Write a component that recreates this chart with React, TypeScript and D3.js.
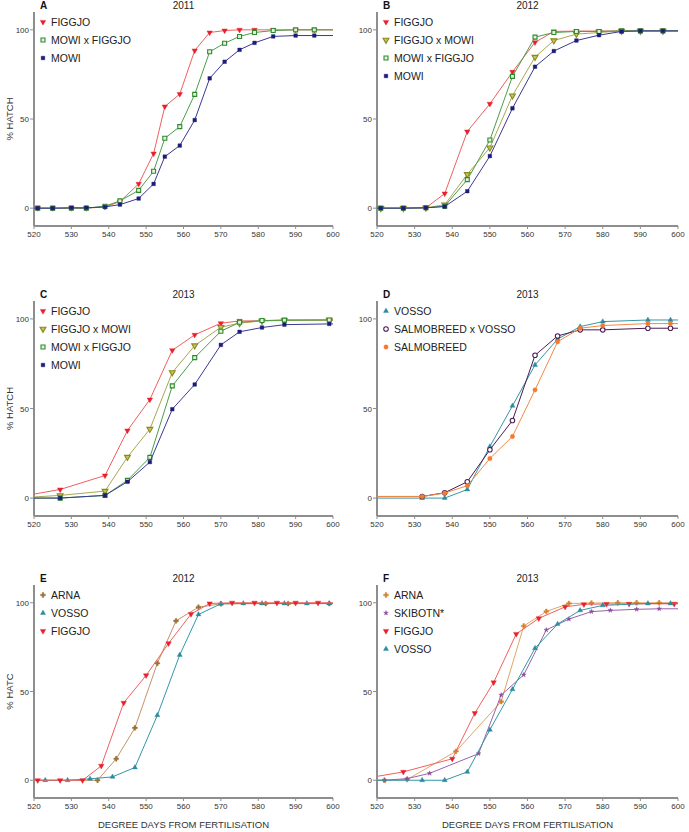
import React from 'react';
import * as d3 from 'd3';

const xTicks = [520, 530, 540, 550, 560, 570, 580, 590, 600];
const yTicks = [0, 50, 100];

// A - 2011
const xA = [521, 525, 530, 534, 539, 543, 548, 552, 555, 559, 563, 567, 571, 575, 579, 584, 590, 595];
const figgjoA = [0, 0, 0, 0, 0.7, 3.7, 13.6, 30.6, 57, 64, 88.4, 98.5, 99.6, 100, 100, 100, 100, 100];
const mowiFiggjoA = [0, 0, 0, 0, 1.1, 4.1, 10, 20.7, 39.2, 45.7, 63.8, 87.7, 92.5, 96.3, 98.5, 99.6, 100, 100];
const mowiA = [0, 0, 0.2, 0.2, 0.7, 2, 5.4, 13.6, 28.9, 35.1, 49.4, 72.8, 82.1, 88.8, 92.7, 96.3, 96.8, 96.8];

// B - 2012
const xB = [521, 527, 533, 538, 544, 550, 556, 562, 567, 573, 579, 585, 590, 596];
const figgjoB = [0, 0, 0.2, 8.2, 43, 58.5, 76.4, 93, 99.1, 99.3, 99.3, 99.4, 99.4, 99.4];
const figgjoMowiB = [0, 0, 0.2, 1.9, 19, 33.9, 63.1, 84.7, 94, 97.6, 98.5, 99.4, 99.4, 99.4];
const mowiFiggjoB = [0, 0, 0.2, 1.1, 16, 38.2, 73.9, 95.9, 98.5, 99.1, 99.1, 99.4, 99.4, 99.4];
const mowiB = [0, 0, 0.2, 0.9, 9.5, 29.2, 56, 79.3, 88.1, 94, 97, 99.1, 99.4, 99.4];

// C - 2013
const xC = [515, 527, 539, 545, 551, 557, 563, 570, 575, 581, 587, 599];
const figgjoC = [0.4, 4.8, 12.6, 37.7, 55, 82.5, 91.1, 97.6, 98.9, 98.9, 99.4, 99.4];
const figgjoMowiC = [0, 1.5, 3.9, 22.9, 38.5, 70.1, 85.1, 95.4, 97.6, 98.9, 99.1, 99.4];
const mowiFiggjoC = [0, 0, 1.5, 9.9, 22.7, 62.6, 78.4, 93.1, 98.1, 99.1, 99.3, 99.4];
const mowiC = [0, 0, 1.5, 9.1, 20.1, 49.6, 63.4, 85.5, 92.8, 95.2, 96.8, 97.2];

// D - 2013
const xD = [532, 538, 544, 550, 556, 562, 568, 574, 580, 592, 598];
const vossoD = [0, 0, 4.8, 28.8, 51.5, 74.3, 88.7, 95.7, 98.5, 99.4, 99.4];
const salmoVossoD = [0.9, 3, 9.1, 27, 43.3, 79.7, 90.5, 93.9, 93.9, 94.8, 94.8];
const salmoD = [0.9, 2.8, 6.9, 22.1, 34.4, 60.4, 87.2, 94.8, 96.3, 97.4, 97.4];

// E - 2012
const xArnaE = [537, 542, 547, 553, 558, 564, 570, 582, 588, 599];
const arnaE = [0, 12.1, 29.5, 65.9, 89.8, 97.5, 99.4, 99.5, 99.5, 99.5];
const xVossoE = [523, 529, 535, 541, 547, 553, 559, 564, 570, 576, 581, 587, 593, 599];
const vossoE = [0, 0, 0.8, 1.9, 7.2, 36.6, 70.6, 93.4, 99.4, 99.6, 99.6, 99.6, 99.6, 99.6];
const xFiggjoE = [521, 527, 533, 538, 544, 550, 556, 562, 567, 573, 579, 585, 590, 596];
const figgjoE = [0, 0, 0, 8.1, 43.6, 59.1, 77.1, 93.6, 99.6, 100, 100, 100, 100, 100];

// F - 2013
const xArnaF = [522, 528, 541, 553, 559, 565, 571, 577, 584, 589, 595];
const arnaF = [0, 0.4, 16.3, 44.3, 86.9, 95.1, 99.6, 99.8, 100, 100, 100];
const xSkibotnF = [522, 528, 534, 547, 553, 559, 565, 571, 577, 582, 589, 595];
const skibotnF = [0, 0.9, 3.9, 15, 48, 59.4, 84.7, 90.8, 95, 95.7, 96.3, 96.6];
const xFiggjoF = [515, 527, 540, 546, 551, 557, 563, 570, 575, 581, 587, 599];
const figgjoF = [0.4, 4.7, 12.1, 37.8, 55.1, 82.4, 91.2, 97.7, 99.1, 99.3, 99.4, 99.4];
const xVossoF = [532, 538, 544, 550, 556, 562, 568, 574, 580, 592, 598];
const vossoF = [0, 0, 4.7, 28.4, 51.2, 74.4, 88, 95.7, 98.5, 99.6, 99.6];

const FONT = '"Liberation Sans", Arial, sans-serif';

const styles = {
  figgjo: { color: '#e8202a', line: '#ef6060', shape: 'down', fill: '#e8202a', size: 13 },
  mowiFiggjo: { color: '#2d8a2d', line: '#4a9e4a', shape: 'square', fill: '#e4f2dc', size: 16 },
  mowi: { color: '#1c1c7a', line: '#3a3a92', shape: 'square', fill: '#1c1c7a', size: 13 },
  figgjoMowi: { color: '#8a8a1c', line: '#a8a850', shape: 'down', fill: '#c2c260', size: 15 },
  vosso: { color: '#2a8c9c', line: '#3597a6', shape: 'up', fill: '#2a8c9c', size: 11 },
  salmoVosso: { color: '#4a1a55', line: '#4a1a55', shape: 'circle', fill: '#ffffff', size: 16 },
  salmo: { color: '#f47a30', line: '#f28a48', shape: 'circle', fill: '#f47a30', size: 15 },
  arnaE: { color: '#9a7232', line: '#c49468', shape: 'cross', fill: '#9a7232', size: 13 },
  arnaF: { color: '#d2822c', line: '#e2a468', shape: 'cross', fill: '#d2822c', size: 13 },
  skibotn: { color: '#8a4a9a', line: '#9a62ac', shape: 'star', fill: '#8a4a9a', size: 7 },
};

const mk = (name: string, xs: number[], ys: number[], st: any) => ({ name, xs, ys, ...st });

const LEFT: [number, number] = [34, 333];
const RIGHT: [number, number] = [377, 678];
const ROW1: [number, number] = [226, 12];
const ROW2: [number, number] = [516, 301];
const ROW3: [number, number] = [798, 585];

const panels = [
  {
    id: 'A', year: '2011', xr: LEFT, yr: ROW1, ylabel: '% HATCH', xlabel: false,
    series: [
      mk('FIGGJO', xA, figgjoA, styles.figgjo),
      mk('MOWI x FIGGJO', xA, mowiFiggjoA, styles.mowiFiggjo),
      mk('MOWI', xA, mowiA, styles.mowi),
    ],
  },
  {
    id: 'B', year: '2012', xr: RIGHT, yr: ROW1, ylabel: '', xlabel: false,
    series: [
      mk('FIGGJO', xB, figgjoB, styles.figgjo),
      mk('FIGGJO x MOWI', xB, figgjoMowiB, styles.figgjoMowi),
      mk('MOWI x FIGGJO', xB, mowiFiggjoB, styles.mowiFiggjo),
      mk('MOWI', xB, mowiB, styles.mowi),
    ],
  },
  {
    id: 'C', year: '2013', xr: LEFT, yr: ROW2, ylabel: '% HATCH', xlabel: false,
    series: [
      mk('FIGGJO', xC, figgjoC, styles.figgjo),
      mk('FIGGJO x MOWI', xC, figgjoMowiC, styles.figgjoMowi),
      mk('MOWI x FIGGJO', xC, mowiFiggjoC, styles.mowiFiggjo),
      mk('MOWI', xC, mowiC, styles.mowi),
    ],
  },
  {
    id: 'D', year: '2013', xr: RIGHT, yr: ROW2, ylabel: '', xlabel: false,
    series: [
      mk('VOSSO', xD, vossoD, styles.vosso),
      mk('SALMOBREED x VOSSO', xD, salmoVossoD, styles.salmoVosso),
      mk('SALMOBREED', xD, salmoD, styles.salmo),
    ],
  },
  {
    id: 'E', year: '2012', xr: LEFT, yr: ROW3, ylabel: '% HATC', xlabel: true,
    series: [
      mk('ARNA', xArnaE, arnaE, styles.arnaE),
      mk('VOSSO', xVossoE, vossoE, styles.vosso),
      mk('FIGGJO', xFiggjoE, figgjoE, styles.figgjo),
    ],
  },
  {
    id: 'F', year: '2013', xr: RIGHT, yr: ROW3, ylabel: '', xlabel: true,
    series: [
      mk('ARNA', xArnaF, arnaF, styles.arnaF),
      mk('SKIBOTN*', xSkibotnF, skibotnF, styles.skibotn),
      mk('FIGGJO', xFiggjoF, figgjoF, styles.figgjo),
      mk('VOSSO', xVossoF, vossoF, styles.vosso),
    ],
  },
];

const symbolPath = (shape: string, size: number) => {
  const type =
    shape === 'square' ? d3.symbolSquare :
    shape === 'circle' ? d3.symbolCircle :
    shape === 'cross' ? d3.symbolCross :
    shape === 'star' ? d3.symbolStar : d3.symbolTriangle;
  return d3.symbol(type, size)() as string;
};

const Marker = ({ s, x, y }: any) => (
  <path
    d={symbolPath(s.shape, s.size)}
    transform={`translate(${x},${y})${s.shape === 'down' ? ' rotate(180)' : ''}`}
    fill={s.fill}
    stroke={s.color}
    strokeWidth={s.fill === s.color ? 0.4 : 1.1}
  />
);

const Panel = ({ p }: any) => {
  const x = d3.scaleLinear().domain([520, 600]).range(p.xr);
  const y = d3.scaleLinear().domain([-10, 110]).range(p.yr);
  const line = d3.line<[number, number]>().x((d) => x(d[0])).y((d) => y(d[1]));
  const [x0, x1] = p.xr;
  const [yb, yt] = p.yr;
  const clipId = `clip-${p.id}`;
  return (
    <g>
      <defs>
        <clipPath id={clipId}>
          <rect x={x0} y={yt - 10} width={x1 - x0} height={yb - yt + 10} />
        </clipPath>
      </defs>
      {/* axes */}
      <line x1={x0} x2={x0} y1={yt} y2={yb} stroke="#8e8e8e" strokeWidth={2} />
      <line x1={x0} x2={x1} y1={yb} y2={yb} stroke="#8e8e8e" strokeWidth={2} />
      {yTicks.map((t) => (
        <g key={t}>
          <line x1={x0 - 4} x2={x0} y1={y(t)} y2={y(t)} stroke="#8e8e8e" strokeWidth={1} />
          <text x={x0 - 5} y={y(t) + 3} textAnchor="end" fontSize={8} fill="#333" fontFamily={FONT}>{t}</text>
        </g>
      ))}
      {xTicks.map((t) => (
        <g key={t}>
          <line x1={x(t)} x2={x(t)} y1={yb} y2={yb + 3} stroke="#8e8e8e" strokeWidth={1} />
          <text x={x(t)} y={yb + 10.5} textAnchor="middle" fontSize={8} fill="#333" fontFamily={FONT}>{t}</text>
        </g>
      ))}
      <text x={x0 + 6} y={yt - 3} fontSize={10} fontWeight="bold" fill="#111" fontFamily={FONT}>{p.id}</text>
      <text x={(x0 + x1) / 2} y={yt - 3} fontSize={10} textAnchor="middle" fill="#222" fontFamily={FONT}>{p.year}</text>
      {p.ylabel && (
        <text transform={`translate(13,${(yb + yt) / 2}) rotate(-90)`} textAnchor="middle" fontSize={9.5} fill="#333" fontFamily={FONT}>{p.ylabel}</text>
      )}
      {p.xlabel && (
        <text x={(x0 + x1) / 2} y={828} textAnchor="middle" fontSize={9.5} fill="#333" fontFamily={FONT}>DEGREE DAYS FROM FERTILISATION</text>
      )}
      {/* series */}
      {p.series.map((s: any) => {
        const pts: [number, number][] = s.xs.map((v: number, i: number) => [v, s.ys[i]]);
        const ext: [number, number][] = [[Math.min(520, pts[0][0]), pts[0][1]], ...pts, [600, pts[pts.length - 1][1]]];
        return (
          <g key={s.name}>
            <path d={line(ext) as string} fill="none" stroke={s.line} strokeWidth={1} clipPath={`url(#${clipId})`} />
            {pts.filter((d) => d[0] >= 520 && d[0] <= 600).map((d, i) => (
              <Marker key={i} s={s} x={x(d[0])} y={y(d[1])} />
            ))}
          </g>
        );
      })}
      {/* legend */}
      {p.series.map((s: any, i: number) => (
        <g key={`lg-${s.name}`} transform={`translate(${x0 + 9},${yt + 10 + i * 18})`}>
          <Marker s={s} x={0} y={0} />
          <text x={8} y={3.8} fontSize={10.5} fill="#222" fontFamily={FONT}>{s.name}</text>
        </g>
      ))}
    </g>
  );
};

export default function App() {
  return (
    <svg width={689} height={832} style={{ position: 'absolute', left: 0, top: 0, background: '#fff' }}>
      <rect width={689} height={832} fill="#fff" />
      {panels.map((p) => <Panel key={p.id} p={p} />)}
    </svg>
  );
}
